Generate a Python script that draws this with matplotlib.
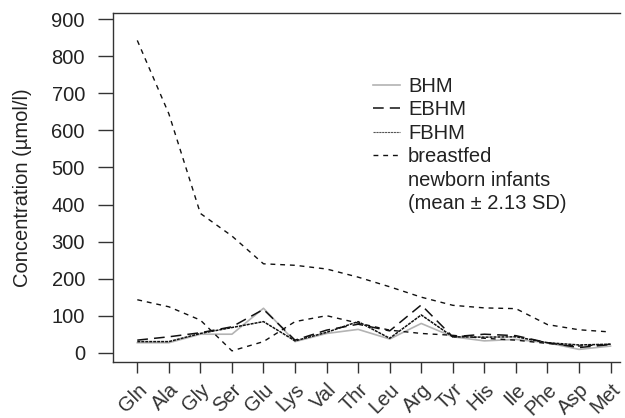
import matplotlib.pyplot as plt
import numpy as np
from matplotlib.lines import Line2D

# amino acids, in plot order
amino_acids = ["Gln", "Ala", "Gly", "Ser", "Glu", "Lys", "Val", "Thr",
               "Leu", "Arg", "Tyr", "His", "Ile", "Phe", "Asp", "Met"]

# concentrations in umol/l
bhm = [27, 27, 50, 50, 120, 30, 52, 63, 37, 79, 43, 32, 36, 27, 9, 18]
ebhm = [34, 43, 54, 70, 117, 34, 61, 77, 59, 129, 43, 50, 46, 27, 14, 22]
fbhm = [30, 30, 52, 68, 84, 32, 55, 84, 39, 102, 43, 42, 43, 27, 21, 23]
breastfed_upper = [843, 645, 376, 315, 240, 236, 226, 204, 178, 150, 128, 121, 119, 76, 62, 56]
breastfed_lower = [143, 124, 88, 5, 30, 84, 100, 80, 61, 52, 47, 39, 34, 25, 18, 23]

plt.rcParams['font.family'] = ['Liberation Sans', 'DejaVu Sans']
text_col = "#222222"
axis_col = "#333333"
fs = 14.5

fig = plt.figure(figsize=(6.25, 4.18), dpi=100)
ax = fig.add_axes([0.1803, 0.134, 0.8117, 0.834])

x = np.arange(1, len(amino_acids) + 1)

ax.plot(x, bhm, color="#b3b3b3", lw=1.2)
ax.plot(x, ebhm, color="#111111", lw=1.1, linestyle=(0, (7, 4)))
ax.plot(x, fbhm, color="#111111", lw=1.1, linestyle=(0, (2, 0.6)))
ax.plot(x, breastfed_upper, color="#111111", lw=1.0, linestyle=(0, (3.5, 3.5)))
ax.plot(x, breastfed_lower, color="#111111", lw=1.0, linestyle=(0, (3.5, 3.5)))

ax.set_xlim(0.22, 16.3)
ax.set_ylim(-25, 916)
ax.set_yticks(np.arange(0, 901, 100))
ax.set_xticks(x)
ax.set_xticklabels(amino_acids, rotation=45, ha="right", va="top",
                   rotation_mode="anchor", fontsize=fs, color=text_col)
ax.tick_params(axis="y", length=11, width=1, pad=9, labelsize=fs,
               colors=axis_col, labelcolor=text_col)
ax.tick_params(axis="x", length=8, width=1, pad=5, colors=axis_col)

ax.spines["right"].set_visible(False)
for s in ["left", "bottom", "top"]:
    ax.spines[s].set_color(axis_col)
    ax.spines[s].set_linewidth(1)

ax.set_ylabel("Concentration (µmol/l)", fontsize=fs, color=text_col, labelpad=14)

handles = [
    Line2D([], [], color="#b3b3b3", lw=1.2),
    Line2D([], [], color="#111111", lw=1.1, linestyle=(0, (7, 4))),
    Line2D([], [], color="#555555", lw=0.8, linestyle=(0, (2, 0.6))),
    Line2D([], [], color="#111111", lw=1.0, linestyle=(0, (3.5, 3.5))),
    Line2D([], [], color="none"),
    Line2D([], [], color="none"),
]
labels = ["BHM", "EBHM", "FBHM", "breastfed", "newborn infants", "(mean ± 2.13 SD)"]
leg = ax.legend(handles, labels, loc="upper left", bbox_to_anchor=(0.513, 0.818),
                frameon=False, fontsize=fs, handlelength=1.35, handletextpad=0.4,
                labelspacing=0.22, borderpad=0, borderaxespad=0)
for t in leg.get_texts():
    t.set_color(text_col)

plt.savefig("out.png", dpi=100)
